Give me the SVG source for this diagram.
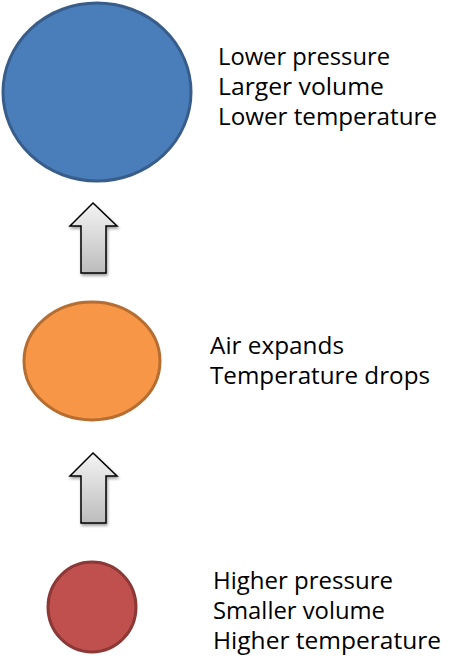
<svg xmlns="http://www.w3.org/2000/svg" width="465" height="666" viewBox="0 0 465 666">
<defs>
<linearGradient id="ag" x1="0" y1="0" x2="0" y2="1">
<stop offset="0" stop-color="#f4f4f4"/>
<stop offset="1" stop-color="#bcbcbc"/>
</linearGradient>
<filter id="sh" x="-30%" y="-30%" width="160%" height="160%">
<feGaussianBlur in="SourceAlpha" stdDeviation="1.5"/>
<feOffset dx="1" dy="2"/>
<feComponentTransfer><feFuncA type="linear" slope="0.4"/></feComponentTransfer>
<feMerge><feMergeNode/><feMergeNode in="SourceGraphic"/></feMerge>
</filter>
<path id="arrow" d="M0,0 L24,23 L13,23 L13,70 L-12,70 L-12,23 L-23,23 Z"/>
</defs>
<style>
text{font-family:"Open Sans","Noto Sans",sans-serif;font-size:24px;fill:#000}
.arr{fill:url(#ag);stroke:#000;stroke-width:1.5;stroke-linejoin:miter}
</style>
<g id="connectors">
<use href="#arrow" class="arr" x="93" y="203" filter="url(#sh)"/>
<use href="#arrow" class="arr" x="93" y="453" filter="url(#sh)"/>
</g>
<g id="node-low">
<ellipse cx="97" cy="92" rx="94" ry="89" fill="#4a7ebb" stroke="#385d8a" stroke-width="3"/>
<text x="218" y="65" textLength="172" lengthAdjust="spacingAndGlyphs">Lower pressure</text>
<text x="218" y="95" textLength="166" lengthAdjust="spacingAndGlyphs">Larger volume</text>
<text x="218" y="125" textLength="219" lengthAdjust="spacingAndGlyphs">Lower temperature</text>
</g>
<g id="node-mid">
<ellipse cx="92" cy="361" rx="68" ry="59" fill="#f79646" stroke="#b66d31" stroke-width="3"/>
<text x="210" y="354" textLength="134" lengthAdjust="spacingAndGlyphs">Air expands</text>
<text x="210" y="384" textLength="220" lengthAdjust="spacingAndGlyphs">Temperature drops</text>
</g>
<g id="node-high">
<ellipse cx="92" cy="607" rx="44" ry="45" fill="#c0504d" stroke="#8c3836" stroke-width="3"/>
<text x="213" y="589" textLength="180" lengthAdjust="spacingAndGlyphs">Higher pressure</text>
<text x="213" y="619" textLength="172" lengthAdjust="spacingAndGlyphs">Smaller volume</text>
<text x="213" y="649" textLength="228" lengthAdjust="spacingAndGlyphs">Higher temperature</text>
</g>
</svg>
